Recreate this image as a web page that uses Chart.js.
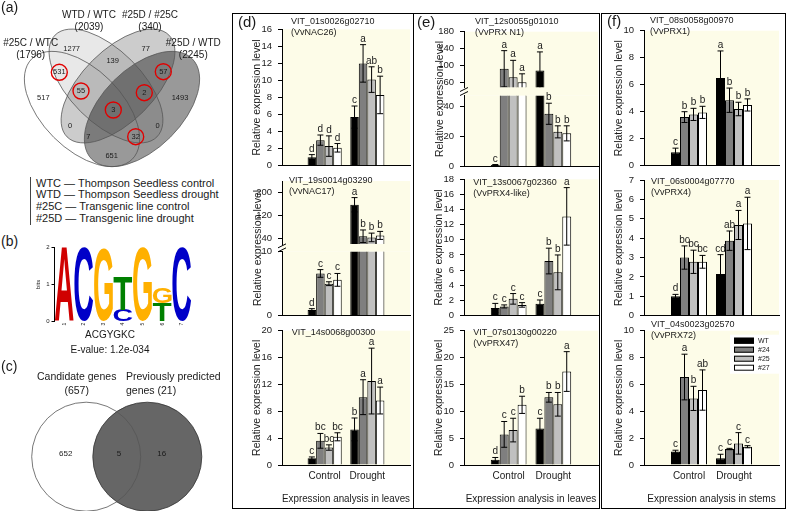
<!DOCTYPE html>
<html>
<head>
<meta charset="utf-8">
<script src="https://cdn.jsdelivr.net/npm/chart.js@4.4.1/dist/chart.umd.min.js"></script>
<style>
  html, body { margin: 0; padding: 0; background: #fff; }
  body { width: 787px; height: 511px; position: relative; overflow: hidden;
         font-family: Arial, "Liberation Sans", sans-serif; color: #1a1a1a; }
  canvas { position: absolute; }
  .txt { position: absolute; white-space: nowrap; line-height: 1; }
  .box { position: absolute; border: 1px solid #000; box-sizing: border-box; }
</style>
</head>
<body>
<script>
// ---------- data ----------
var groups = ['Control', 'Drought'];
var lines = ['WT', '#24', '#25', '#27'];

// each row is one line (WT, #24, #25, #27): [control, drought]
var nac26Mean = [[1.0, 5.7], [3.0, 12.0], [2.3, 10.1], [2.1, 8.3]];
var nac26Err = [[0.3, 1.3], [0.6, 2.2], [1.2, 1.5], [0.5, 2.2]];
var nac26Sig = [['d', 'c'], ['d', 'a'], ['d', 'ab'], ['d', 'b']];

var nac17Mean = [[0.9, 157], [6.6, 47], [5.0, 43], [5.6, 50]];
var nac17Err = [[0.2, 25], [0.6, 22], [0.3, 15], [1.0, 14]];
var nac17Sig = [['d', 'a'], ['c', 'b'], ['c', 'b'], ['c', 'b']];

var g00300Mean = [[1.0, 5.3], [3.6, 10.1], [2.6, 12.5], [4.2, 9.6]];
var g00300Err = [[0.2, 1.7], [1.1, 2.6], [0.4, 4.9], [0.6, 2.0]];
var g00300Sig = [['c', 'b'], ['bc', 'a'], ['bc', 'a'], ['bc', 'a']];

var prxN1Mean = [[1.0, 88], [92, 35], [72, 23], [60, 22]];
var prxN1Err = [[0.3, 44], [43, 7], [40, 4], [20, 5]];
var prxN1Sig = [['c', 'a'], ['a', 'b'], ['a', 'b'], ['a', 'b']];

var prx4likeMean = [[1.0, 1.55], [1.2, 7.2], [2.2, 5.7], [1.4, 13.1]];
var prx4likeErr = [[0.6, 0.5], [0.2, 1.7], [0.7, 2.3], [0.3, 3.8]];
var prx4likeSig = [['c', 'c'], ['c', 'b'], ['c', 'b'], ['c', 'a']];

var prx47Mean = [[1.0, 6.8], [5.7, 12.6], [6.5, 11.3], [11.2, 17.4]];
var prx47Err = [[0.4, 1.9], [2.4, 0.9], [2.2, 2.2], [1.6, 3.7]];
var prx47Sig = [['d', 'c'], ['c', 'b'], ['c', 'b'], ['b', 'a']];

var prx1Mean = [[1.0, 6.5], [3.6, 4.85], [3.8, 4.2], [3.95, 4.5]];
var prx1Err = [[0.3, 2.0], [0.4, 0.9], [0.45, 0.5], [0.45, 0.45]];
var prx1Sig = [['c', 'a'], ['b', 'b'], ['b', 'b'], ['b', 'b']];

var prx4Mean = [[1.0, 2.15], [3.0, 3.87], [2.78, 4.68], [2.78, 4.76]];
var prx4Err = [[0.1, 1.0], [0.6, 0.5], [0.6, 0.75], [0.33, 1.35]];
var prx4Sig = [['d', 'cd'], ['bc', 'ab'], ['bc', 'a'], ['bc', 'a']];

var prx72Mean = [[1.0, 0.5], [6.55, 1.19], [4.96, 1.61], [5.58, 1.36]];
var prx72Err = [[0.1, 0.3], [1.7, 0.05], [0.9, 0.8], [1.5, 0.08]];
var prx72Sig = [['c', 'c'], ['a', 'c'], ['b', 'c'], ['ab', 'c']];

// (a) four-way comparison
var vennSets = ['#25C / WTC', 'WTD / WTC', '#25D / #25C', '#25D / WTD'];
var vennTotals = [1796, 2039, 340, 2245];
var vennCounts = [517, 1277, 77, 1493, 531, 139, 57, 651, 55, 2, 3, 0, 0, 7, 32];
var vennCircled = [false, false, false, false, true, false, true, false, true, true, true, false, false, false, true];
var sampleCodes = ['WTC', 'WTD', '#25C', '#25D'];
var sampleNames = ['Thompson Seedless control', 'Thompson Seedless drought', 'Transgenic line control', 'Transgenic line drought'];

// (b) motif, bits per stacked letter (bottom first)
var motifLetters = [['A'], ['C'], ['G'], ['C', 'T'], ['G'], ['T', 'G'], ['C']];
var motifBits = [[2.0], [2.0], [1.96], [0.32, 0.9], [2.0], [0.5, 0.42], [2.0]];
var motifName = 'ACGYGKC';
var motifEvalue = '1.2e-034';

// (c) two-way comparison
var candSets = ['Candidate genes', 'Previously predicted genes'];
var candTotals = [657, 21];
var candCounts = [652, 5, 16];

// ---------- style ----------
var FONT = 'Arial, "Liberation Sans", sans-serif';
var INK = '#1a1a1a';
var CREAM = '#fdfce8';
var barColors = ['#000000', '#7f7f7f', '#c0c0c0', '#ffffff'];
var letterColors = { A: '#d00000', C: '#0000c8', G: '#ffb000', T: '#008000' };

function mkCanvas(L, T, W, H) {
  var c = document.createElement('canvas');
  c.width = W; c.height = H;
  c.style.left = L + 'px'; c.style.top = T + 'px';
  c.style.width = W + 'px'; c.style.height = H + 'px';
  document.body.appendChild(c);
  return c;
}

function addText(s, x, y, size, align, rotate) {
  var d = document.createElement('div');
  d.className = 'txt';
  d.textContent = s;
  d.style.fontSize = size + 'px';
  d.style.left = x + 'px';
  d.style.top = y + 'px';
  var tx = align === 'center' ? '-50%' : '0';
  d.style.transform = 'translate(' + tx + ', -50%)' + (rotate ? ' rotate(-90deg)' : '');
  document.body.appendChild(d);
  return d;
}

function addBox(l, t, r, b) {
  var d = document.createElement('div');
  d.className = 'box';
  d.style.left = l + 'px'; d.style.top = t + 'px';
  d.style.width = (r - l) + 'px'; d.style.height = (b - t) + 'px';
  document.body.appendChild(d);
}

// ---------- plugins ----------
var plotBg = {
  id: 'plotBg',
  beforeDraw: function (chart, args, o) {
    var a = chart.chartArea, ctx = chart.ctx;
    ctx.save();
    ctx.fillStyle = CREAM;
    ctx.fillRect(a.left, a.top, a.right - a.left, a.bottom - a.top + (o.extend || 0));
    ctx.restore();
  }
};

var errorBars = {
  id: 'errorBars',
  afterDatasetsDraw: function (chart) {
    var ctx = chart.ctx, y = chart.scales.y, a = chart.chartArea;
    chart.data.datasets.forEach(function (ds, di) {
      var meta = chart.getDatasetMeta(di);
      [1, 2].forEach(function (k) {
        var v = ds.data[k];
        if (v == null || v < y.min || v > y.max) return;
        var e = ds.err[k - 1];
        var x = meta.data[k].x;
        var top = y.getPixelForValue(v + e), bot = y.getPixelForValue(v - e);
        ctx.save();
        ctx.beginPath();
        ctx.rect(a.left, a.top - 40, a.right - a.left, a.bottom - a.top + 40);
        ctx.clip();
        ctx.strokeStyle = '#000';
        ctx.lineWidth = 1;
        ctx.beginPath();
        ctx.moveTo(x, top); ctx.lineTo(x, bot);
        ctx.moveTo(x - 3, top); ctx.lineTo(x + 3, top);
        ctx.moveTo(x - 3, bot); ctx.lineTo(x + 3, bot);
        ctx.stroke();
        ctx.restore();
        ctx.save();
        ctx.fillStyle = INK;
        ctx.font = '10px ' + FONT;
        ctx.textAlign = 'center';
        ctx.textBaseline = 'alphabetic';
        ctx.fillText(ds.sig[k - 1], x, Math.min(top, y.getPixelForValue(v)) - 3);
        ctx.restore();
      });
    });
  }
};

var geneLabel = {
  id: 'geneLabel',
  afterDraw: function (chart, args, o) {
    if (!o.pos) return;
    var ctx = chart.ctx;
    ctx.save();
    ctx.font = '9px ' + FONT;
    ctx.fillStyle = INK;
    ctx.textBaseline = 'middle';
    ctx.textAlign = 'left';
    o.pos.lines.forEach(function (s, i) {
      ctx.fillText(s, o.pos.x - o.origin.L, o.pos.y - o.origin.T + i * 11);
    });
    ctx.restore();
  }
};

var breakMark = {
  id: 'breakMark',
  afterDraw: function (chart, args, o) {
    if (!o.gap) return;
    var ctx = chart.ctx, a = chart.chartArea;
    var x = a.left, yc = a.bottom + o.gap / 2;
    ctx.save();
    ctx.strokeStyle = '#000';
    ctx.lineWidth = 1;
    ctx.beginPath();
    ctx.moveTo(x - 4, yc); ctx.lineTo(x + 4, yc - 4);
    ctx.moveTo(x - 4, yc + 4); ctx.lineTo(x + 4, yc);
    ctx.stroke();
    ctx.restore();
  }
};

var lineLegend = {
  id: 'lineLegend',
  afterDraw: function (chart, args, o) {
    if (!o.pos) return;
    var ctx = chart.ctx, x = o.pos.x - o.origin.L, y = o.pos.y - o.origin.T;
    ctx.save();
    ctx.fillStyle = '#fff';
    ctx.fillRect(x - 4, y - 6, 50, 39);
    chart.data.datasets.forEach(function (ds, i) {
      var yy = y + i * 9;
      ctx.fillStyle = ds.backgroundColor;
      ctx.fillRect(x, yy - 3, 20, 6);
      ctx.strokeStyle = '#000';
      ctx.lineWidth = 1;
      ctx.strokeRect(x + 0.5, yy - 2.5, 19, 5);
      ctx.fillStyle = INK;
      ctx.font = '7px ' + FONT;
      ctx.textBaseline = 'middle';
      ctx.textAlign = 'left';
      ctx.fillText(ds.label, x + 24, yy);
    });
    ctx.restore();
  }
};

// ---------- bar charts ----------
function barChart(spec) {
  var p = spec.plot, yW = 34;
  var xH = spec.footer ? 42 : 8;
  var L = Math.floor(p.l - yW - 1), T = Math.floor(p.t - 26);
  var R = Math.ceil(p.r + 6), B = Math.ceil(p.b + xH + 1);
  var canvas = mkCanvas(L, T, R - L, B - T);
  var origin = { L: L, T: T };

  var datasets = lines.map(function (name, i) {
    return {
      label: name,
      data: [null, spec.mean[i][0], spec.mean[i][1], null],
      err: spec.err[i],
      sig: spec.sig[i],
      backgroundColor: barColors[i],
      borderColor: '#000',
      borderWidth: 1,
      categoryPercentage: 0.8,
      barPercentage: 1,
      clip: 0
    };
  });

  var yOpts = {
    type: 'linear', min: spec.y.min, max: spec.y.max,
    ticks: { stepSize: spec.y.step, font: { size: 9.5, family: FONT }, color: INK, padding: 6 },
    grid: { drawOnChartArea: false, drawTicks: true, tickLength: 4, color: '#000' },
    border: { display: true, color: '#000', width: 1 },
    title: {
      display: !!spec.yTitle, text: 'Relative expression level',
      font: { size: 10.5, family: FONT }, color: INK, padding: { top: 2.7, bottom: 0 }
    },
    afterFit: function (s) { s.width = yW; s.paddingTop = 0; s.paddingBottom = 0; }
  };
  if (spec.y.ticks) {
    yOpts.afterBuildTicks = function (s) {
      s.ticks = spec.y.ticks.map(function (v) { return { value: v }; });
    };
  }

  var xOpts = {
    type: 'category', offset: false,
    grid: { display: false, drawTicks: false, offset: false },
    border: { display: !spec.upper, color: '#000', width: 1 },
    ticks: {
      display: !!spec.footer, autoSkip: false, maxRotation: 0,
      font: { size: 10, family: FONT }, color: INK, padding: 5.7
    },
    title: {
      display: !!spec.footer, text: spec.footer || '',
      font: { size: 10, family: FONT }, color: INK, padding: { top: 0, bottom: 1.7 }
    },
    afterFit: function (s) { s.height = xH; s.paddingLeft = 0; s.paddingRight = 0; }
  };

  return new Chart(canvas, {
    type: 'bar',
    data: { labels: ['', groups[0], groups[1], ''], datasets: datasets },
    options: {
      responsive: false, animation: false, events: [], devicePixelRatio: 1,
      layout: { padding: { left: p.l - yW - L, top: p.t - T, right: R - p.r, bottom: B - p.b - xH } },
      plugins: {
        legend: { display: false }, tooltip: { enabled: false },
        plotBg: { extend: spec.upper ? spec.gap : 0 },
        geneLabel: { origin: origin, pos: spec.gene || null },
        breakMark: { gap: spec.upper ? spec.gap : 0 },
        lineLegend: { origin: origin, pos: spec.legend || null }
      },
      scales: { x: xOpts, y: yOpts }
    },
    plugins: [plotBg, errorBars, geneLabel, breakMark, lineLegend]
  });
}

var D = { l: 282, r: 410 }, E = { l: 464, r: 598 }, F = { l: 644, r: 779 };

// (d)
barChart({ plot: { l: D.l, r: D.r, t: 29.3, b: 165.7 }, y: { min: 0, max: 16, step: 2 },
  mean: nac26Mean, err: nac26Err, sig: nac26Sig, yTitle: true,
  gene: { x: 291, y: 21.5, lines: ['VIT_01s0026g02710', '(VvNAC26)'] } });
barChart({ plot: { l: D.l, r: D.r, t: 181, b: 244 }, y: { min: 20, max: 240, ticks: [40, 80, 120, 160, 200, 240] },
  mean: nac17Mean, err: nac17Err, sig: nac17Sig, upper: true, gap: 7.7,
  gene: { x: 289, y: 181, lines: ['VIT_19s0014g03290', '(VvNAC17)'] } });
barChart({ plot: { l: D.l, r: D.r, t: 251.7, b: 315.7 }, y: { min: 0, max: 10, ticks: [0, 10] },
  mean: nac17Mean, err: nac17Err, sig: nac17Sig });
barChart({ plot: { l: D.l, r: D.r, t: 330.7, b: 465 }, y: { min: 0, max: 20, step: 2 },
  mean: g00300Mean, err: g00300Err, sig: g00300Sig, yTitle: true, footer: 'Expression analysis in leaves',
  gene: { x: 291.7, y: 332.7, lines: ['VIT_14s0068g00300'] } });

// (e)
barChart({ plot: { l: E.l, r: E.r, t: 31.7, b: 87.3 }, y: { min: 48, max: 180, ticks: [60, 80, 100, 120, 140, 160, 180] },
  mean: prxN1Mean, err: prxN1Err, sig: prxN1Sig, upper: true, gap: 8.4,
  gene: { x: 475, y: 21.5, lines: ['VIT_12s0055g01010', '(VvPRX N1)'] } });
barChart({ plot: { l: E.l, r: E.r, t: 95.7, b: 166.5 }, y: { min: 0, max: 47, ticks: [0, 20, 40] },
  mean: prxN1Mean, err: prxN1Err, sig: prxN1Sig });
barChart({ plot: { l: E.l, r: E.r, t: 179.3, b: 315.5 }, y: { min: 0, max: 18, step: 2 },
  mean: prx4likeMean, err: prx4likeErr, sig: prx4likeSig, yTitle: true,
  gene: { x: 473.3, y: 182.7, lines: ['VIT_13s0067g02360', '(VvPRX4-like)'] } });
barChart({ plot: { l: E.l, r: E.r, t: 330.7, b: 465 }, y: { min: 0, max: 25, step: 5 },
  mean: prx47Mean, err: prx47Err, sig: prx47Sig, yTitle: true, footer: 'Expression analysis in leaves',
  gene: { x: 473.3, y: 332.7, lines: ['VIT_07s0130g00220', '(VvPRX47)'] } });

// (f)
barChart({ plot: { l: F.l, r: F.r, t: 30.7, b: 165.7 }, y: { min: 0, max: 10, step: 2 },
  mean: prx1Mean, err: prx1Err, sig: prx1Sig, yTitle: true,
  gene: { x: 650, y: 21, lines: ['VIT_08s0058g00970', '(VvPRX1)'] } });
barChart({ plot: { l: F.l, r: F.r, t: 180, b: 315.7 }, y: { min: 0, max: 7, step: 1 },
  mean: prx4Mean, err: prx4Err, sig: prx4Sig, yTitle: true,
  gene: { x: 651, y: 181.7, lines: ['VIT_06s0004g07770', '(VvPRX4)'] } });
barChart({ plot: { l: F.l, r: F.r, t: 330.7, b: 465 }, y: { min: 0, max: 10, step: 2 },
  mean: prx72Mean, err: prx72Err, sig: prx72Sig, yTitle: true, footer: 'Expression analysis in stems',
  gene: { x: 651, y: 325, lines: ['VIT_04s0023g02570', '(VvPRX72)'] },
  legend: { x: 734, y: 340.7 } });

// y titles spanning the broken axes
addText('Relative expression level', 257, 248.3, 10.5, 'center', true);
addText('Relative expression level', 439.3, 99, 10.5, 'center', true);

// panel frames and letters
addBox(232, 13, 414, 509);
addBox(413, 13, 600, 509);
addBox(601, 13, 786, 509);
addText('(d)', 238, 21, 15);
addText('(e)', 417, 21, 15);
addText('(f)', 607, 20, 15);

// ---------- (a) venn ----------
function pageChart(L, T, W, H, draw) {
  var c = mkCanvas(L, T, W, H);
  return new Chart(c, {
    type: 'scatter',
    data: { datasets: [{ data: [] }] },
    options: {
      responsive: false, animation: false, events: [], devicePixelRatio: 1,
      layout: { padding: 0 },
      plugins: { legend: { display: false }, tooltip: { enabled: false } },
      scales: {
        x: { type: 'linear', display: false, min: L, max: L + W },
        y: { type: 'linear', display: false, min: T, max: T + H, reverse: true }
      }
    },
    plugins: [{ id: 'pageDraw', afterDraw: draw }]
  });
}

var vennShapes = [
  { cx: 82, cy: 109, rx: 71, ry: 40, rot: 45, shade: 0 },
  { cx: 106, cy: 86, rx: 72, ry: 36, rot: 45, shade: 0.09 },
  { cx: 118, cy: 86, rx: 72, ry: 36, rot: -45, shade: 0.2 },
  { cx: 142, cy: 109, rx: 71, ry: 40, rot: -45, shade: 0.4 }
];
var vennSpots = [[43.3, 98.3], [71.7, 49.3], [145.7, 49.3], [180, 98.3], [59.3, 72.3], [112.7, 61],
  [163.3, 71.7], [111.7, 156], [81, 91], [144.3, 92.7], [113.3, 110], [70, 126], [157.7, 126],
  [88.3, 136.7], [135.7, 136.7]];

pageChart(0, 0, 228, 176, function (chart) {
  var ctx = chart.ctx, xs = chart.scales.x, ys = chart.scales.y;
  function px(v) { return xs.getPixelForValue(v); }
  function py(v) { return ys.getPixelForValue(v); }
  function path(e) {
    ctx.beginPath();
    ctx.ellipse(px(e.cx), py(e.cy), px(e.cx + e.rx) - px(e.cx), py(e.cy + e.ry) - py(e.cy),
      e.rot * Math.PI / 180, 0, 2 * Math.PI);
  }
  ctx.save();
  vennShapes.forEach(function (e) {
    path(e);
    ctx.fillStyle = 'rgba(0,0,0,' + e.shade + ')';
    ctx.fill();
  });
  ctx.strokeStyle = '#555';
  ctx.lineWidth = 0.8;
  vennShapes.forEach(function (e) { path(e); ctx.stroke(); });
  ctx.font = '7.5px ' + FONT;
  ctx.fillStyle = INK;
  ctx.textAlign = 'center';
  ctx.textBaseline = 'middle';
  vennCounts.forEach(function (n, i) {
    var x = px(vennSpots[i][0]), y = py(vennSpots[i][1]);
    ctx.fillText(String(n), x, y);
    if (vennCircled[i]) {
      ctx.save();
      ctx.strokeStyle = '#e00000';
      ctx.lineWidth = 1.4;
      ctx.beginPath();
      ctx.arc(x, y, 8, 0, 2 * Math.PI);
      ctx.stroke();
      ctx.restore();
    }
  });
  ctx.restore();
});

addText('(a)', 1, 7, 14);
var vennLabelPos = [[30.7, 43.3], [89, 15], [150, 15], [193.3, 43.3]];
vennSets.forEach(function (s, i) {
  addText(s, vennLabelPos[i][0], vennLabelPos[i][1], 10, 'center');
  addText('(' + vennTotals[i] + ')', vennLabelPos[i][0], vennLabelPos[i][1] + 12, 10, 'center');
});
(function () {
  var bar = document.createElement('div');
  bar.style.cssText = 'position:absolute;left:30px;top:177px;height:48px;border-left:1px solid #444;';
  document.body.appendChild(bar);
})();
sampleCodes.forEach(function (c, i) {
  addText(c + ' \u2014 ' + sampleNames[i], 36, 182.7 + i * 11.7, 11);
});

// ---------- (b) motif ----------
addText('(b)', 1, 241, 14);
(function () {
  var plot = { l: 54.5, r: 191.5, t: 247.3, b: 321.7 }, yW = 20, xH = 8;
  var L = 30, T = 240, W = 166, H = 92;
  var c = mkCanvas(L, T, W, H);
  var layers = [0, 1].map(function (j) {
    return {
      data: motifBits.map(function (b) { return b[j] == null ? null : b[j]; }),
      letters: motifLetters.map(function (l) { return l[j] || null; }),
      backgroundColor: 'rgba(0,0,0,0)',
      borderWidth: 0,
      categoryPercentage: 1,
      barPercentage: 0.96
    };
  });
  new Chart(c, {
    type: 'bar',
    data: { labels: motifLetters.map(function (l, i) { return String(i + 1); }), datasets: layers },
    options: {
      responsive: false, animation: false, events: [], devicePixelRatio: 1,
      layout: { padding: { left: plot.l - yW - L, top: plot.t - T, right: L + W - plot.r, bottom: T + H - plot.b - xH } },
      plugins: { legend: { display: false }, tooltip: { enabled: false } },
      scales: {
        x: {
          stacked: true, grid: { display: false, drawTicks: false }, border: { display: false },
          ticks: { font: { size: 5, family: FONT }, color: INK, padding: 1, minRotation: 90, maxRotation: 90 },
          afterFit: function (s) { s.height = xH; s.paddingLeft = 0; s.paddingRight = 0; }
        },
        y: {
          stacked: true, min: 0, max: 2,
          ticks: { stepSize: 1, font: { size: 6, family: FONT }, color: INK, padding: 2 },
          grid: { drawOnChartArea: false, drawTicks: true, tickLength: 3, color: '#000' },
          border: { display: true, color: '#000', width: 1 },
          title: { display: true, text: 'bits', font: { size: 6, family: FONT }, color: INK, padding: 0 },
          afterFit: function (s) { s.width = yW; s.paddingTop = 0; s.paddingBottom = 0; }
        }
      }
    },
    plugins: [{
      id: 'motifLetters',
      afterDatasetsDraw: function (chart) {
        var ctx = chart.ctx;
        chart.data.datasets.forEach(function (ds, di) {
          chart.getDatasetMeta(di).data.forEach(function (el, k) {
            var ch = ds.letters[k];
            if (!ch || ds.data[k] == null) return;
            var x0 = el.x - el.width / 2, x1 = el.x + el.width / 2;
            var y0 = Math.min(el.y, el.base), y1 = Math.max(el.y, el.base);
            ctx.save();
            ctx.font = 'bold 100px ' + FONT;
            var m = ctx.measureText(ch);
            var gw = m.actualBoundingBoxLeft + m.actualBoundingBoxRight;
            var gh = m.actualBoundingBoxAscent + m.actualBoundingBoxDescent;
            ctx.translate(x0, y0);
            ctx.scale((x1 - x0) / gw, (y1 - y0) / gh);
            ctx.fillStyle = letterColors[ch];
            ctx.textBaseline = 'alphabetic';
            ctx.textAlign = 'left';
            ctx.fillText(ch, m.actualBoundingBoxLeft, m.actualBoundingBoxAscent);
            ctx.restore();
          });
        });
      }
    }]
  });
})();
addText(motifName, 110, 335, 10, 'center');
addText('E-value: ' + motifEvalue, 110, 350, 10, 'center');

// ---------- (c) venn ----------
addText('(c)', 1, 366, 14);
addText(candSets[0], 76.7, 375.7, 10.5, 'center');
addText('(' + candTotals[0] + ')', 76.7, 390, 10.5, 'center');
addText('Previously predicted', 173.3, 375.7, 10.5, 'center');
addText('genes (' + candTotals[1] + ')', 126, 390, 10.5);

var candShapes = [{ cx: 86.2, cy: 456.7, r: 54.5 }, { cx: 147.3, cy: 456.7, r: 54.5 }];
var candSpots = [[65.7, 453.3], [119, 453.3], [161.7, 453.3]];
pageChart(0, 396, 228, 115, function (chart) {
  var ctx = chart.ctx, xs = chart.scales.x, ys = chart.scales.y;
  function px(v) { return xs.getPixelForValue(v); }
  function py(v) { return ys.getPixelForValue(v); }
  function circ(s) {
    ctx.beginPath();
    ctx.arc(px(s.cx), py(s.cy), px(s.cx + s.r) - px(s.cx), 0, 2 * Math.PI);
  }
  ctx.save();
  circ(candShapes[1]);
  ctx.fillStyle = '#666666';
  ctx.fill();
  ctx.lineWidth = 0.8;
  ctx.strokeStyle = '#333';
  ctx.stroke();
  circ(candShapes[0]);
  ctx.strokeStyle = '#555';
  ctx.stroke();
  ctx.font = '8px ' + FONT;
  ctx.fillStyle = INK;
  ctx.textAlign = 'center';
  ctx.textBaseline = 'middle';
  candCounts.forEach(function (n, i) {
    ctx.fillText(String(n), px(candSpots[i][0]), py(candSpots[i][1]));
  });
  ctx.restore();
});
</script>
</body>
</html>
